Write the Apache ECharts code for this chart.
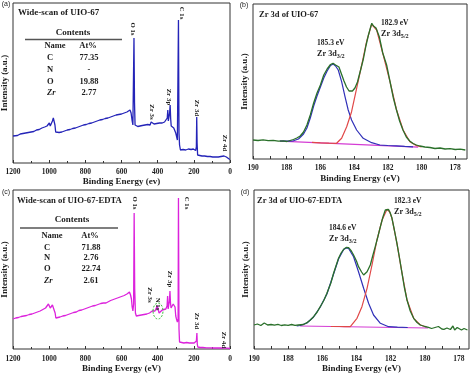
<!DOCTYPE html>
<html><head><meta charset="utf-8">
<script src="https://cdn.jsdelivr.net/npm/echarts@6/dist/echarts.min.js"></script>
<style>html,body{margin:0;padding:0;background:#fff}#c{width:474px;height:373px}</style>
</head><body><div id="c"></div>
<script>
// ---------- data (binding energy eV, intensity a.u.) ----------
const surveyTicks = [0, 200, 400, 600, 800, 1000, 1200];
const hiresTicks = [178, 180, 182, 184, 186, 188, 190];
const hiresMinor = [178, 179, 180, 181, 182, 183, 184, 185, 186, 187, 188, 189, 190];

const surveyA = [
[1200,27],[1190,28],[1175,27.5],[1160,29],[1145,29.5],[1130,30],[1115,30.5],[1100,31],[1085,31.5],[1070,33],[1055,33.5],[1040,35],[1025,36],[1012,37],[1004,39],[999,40],[994,37],[988,38],[982,42],[977,45],[972,43],[968,38],[964,31],[958,30],[945,30.5],[930,31],[915,32],[900,33],[885,33.5],[870,34.5],[855,35],[840,36],[825,37],[810,38],[795,38.5],[780,39.5],[765,40],[750,41],[735,42],[720,43],[705,43.5],[690,44.5],[675,45],[660,46],[645,47],[630,48],[615,48.5],[600,49],[585,50],[570,51],[560,51.5],[553,53],[547,50],[541,42],[537,38],[534,40],[531,125],[528,60],[525,38],[520,36],[510,36.5],[498,37],[485,37.5],[470,38],[455,38.5],[442,38],[436,41],[432,43],[428,40],[420,39],[405,39.5],[390,40],[375,40],[362,41],[352,41],[347,45],[344,53],[341,42],[338,41],[334,50],[331,58],[328,44],[325,37],[318,36],[311,35],[305,33],[300,30],[296,27],[291,23],[288,25],[285,143],[282,30],[279,18],[274,13],[260,13.5],[245,13],[230,14],[215,13.5],[203,14],[196,13],[190,12.5],[186,16],[184,46],[182,20],[179,8],[170,7.5],[155,7],[140,7],[125,6.5],[110,6.5],[95,6],[80,6],[65,6],[50,6.5],[40,7],[33,7],[29,9],[27,7],[20,6],[12,5],[5,4],[0,3.5]
];
const surveyC = [
[1200,30],[1185,31],[1170,31.5],[1155,32.5],[1140,33],[1125,33.5],[1110,34.5],[1095,35],[1080,36],[1065,37],[1050,38],[1035,39.5],[1020,41],[1010,43],[1004,45],[999,44],[994,41],[988,42],[982,44],[977,46],[972,44],[967,36],[963,31],[955,31.5],[940,32],[925,33],[910,33.5],[895,34.5],[880,35.5],[865,36.5],[850,37],[835,38.5],[820,39],[805,40],[790,41],[775,42],[760,43],[745,43.5],[730,44.5],[715,45.5],[700,46],[690,48],[686,46],[675,47.5],[660,48.5],[645,49.5],[630,50.5],[615,51.5],[600,52.5],[585,53.5],[570,55],[562,56],[556,57],[550,54],[545,50],[541,42],[537,38],[533,45],[530,136],[527,60],[523,36],[518,33],[505,33.5],[490,34],[475,34.5],[460,35],[445,36],[436,37],[430,38],[425,37],[415,38],[407,40],[402,43],[398,41],[392,36],[385,38],[375,39],[365,40],[355,40],[348,43],[345,53],[342,40],[339,39],[335,48],[332,58],[329,46],[326,41],[320,43],[314,45],[309,44],[304,42],[300,33],[296,30],[291,27],[287,30],[285,151],[282,20],[279,7],[270,6.5],[255,6],[240,6.5],[225,6],[210,6],[198,6],[191,5.5],[186,8],[183,16],[181,5],[178,2],[165,1.5],[150,1.5],[130,1.2],[110,1.2],[90,1],[70,1],[50,1],[35,1.2],[30,2.5],[26,1.2],[15,0.8],[0,0.5]
];

const rawB = [
[190,19],[189.7,18.5],[189.4,19.2],[189.1,18.3],[188.8,18.7],[188.5,17.8],[188.2,18.2],[188,17.5],[187.8,18.5],[187.6,19.5],[187.4,21],[187.2,23],[187,27],[186.8,34],[186.6,44],[186.4,56],[186.2,66],[186,74],[185.8,84],[185.6,90],[185.4,94.5],[185.25,95.7],[185.1,94],[185,95],[184.9,92],[184.75,85],[184.6,78],[184.45,72],[184.3,68],[184.2,67],[184.1,68],[183.95,71],[183.8,77],[183.6,90],[183.45,100],[183.3,113],[183.15,124],[183.0,133],[182.95,135.7],[182.85,133],[182.7,131],[182.5,122],[182.3,106],[182.07,94],[181.9,80],[181.67,61],[181.5,50],[181.3,38],[181.1,29],[180.9,22],[180.7,18],[180.5,15.5],[180.3,14],[180.1,13],[179.8,12],[179.5,11.5],[179.2,10.5],[178.9,11],[178.6,10],[178.3,10.3],[178,9.5],[177.7,9.8],[177.4,9]
];
const fit32B = [
[188.4,18],[188,17.8],[187.6,18.2],[187.3,20],[187,25],[186.8,31],[186.6,41],[186.4,53],[186.2,63],[186,72],[185.8,81],[185.6,88],[185.4,93.5],[185.24,95],[185.1,93],[184.94,89],[184.74,77.3],[184.54,62.3],[184.35,49],[184.15,39],[183.85,29],[183.46,20.7],[182.96,16.3],[182.47,14],[182,13.5],[181.5,13.1],[181,12.6],[180.5,12.2]
];
const fit52B = [
[186.5,16.6],[186,16.2],[185.5,15.9],[185.04,15.7],[184.74,20.7],[184.44,32.3],[184.15,47.3],[183.85,70.7],[183.55,94],[183.26,117.3],[182.96,134.7],[182.66,129],[182.27,104],[181.87,77.3],[181.48,49],[181.09,29],[180.69,17.3],[180.29,13.3],[180,12.2]
];
const baseB = [[188.4,17.8],[180.2,11.8]];

const rawD = [
[190,24],[189.8,25],[189.6,23.5],[189.4,26],[189.2,24],[189,24.5],[188.8,23.8],[188.6,24.6],[188.4,23.5],[188.2,24.2],[188,23.7],[187.8,24.5],[187.6,23.6],[187.4,24],[187.29,23],[187.1,24.5],[186.9,26.3],[186.7,29],[186.51,32.3],[186.3,37],[186.12,42.3],[185.9,49],[185.73,55.7],[185.5,66],[185.34,75.7],[185.2,83],[185.05,90.7],[184.9,96],[184.75,99.7],[184.6,101.5],[184.46,101.3],[184.3,98],[184.17,94],[184.0,88],[183.88,82.3],[183.7,77],[183.58,74],[183.48,75],[183.38,77.3],[183.19,84],[183.05,93],[182.9,102.3],[182.75,112],[182.6,122.3],[182.45,132],[182.31,139],[182.2,140.7],[182.12,139.5],[182.02,136],[181.92,130.7],[181.78,119],[181.63,105.7],[181.48,91],[181.33,75.7],[181.2,62],[181.04,49],[180.85,38],[180.65,30.7],[180.45,26.5],[180.26,24],[180,22.5],[179.78,21.7],[179.6,20.5],[179.4,21.5],[179.2,22.5],[179,20],[178.88,19.7],[178.7,21],[178.5,19.5],[178.35,23],[178.25,19],[178.1,21.5],[178,21.3],[177.85,19],[177.7,20.5],[177.5,19]
];
const fit32D = [
[187.5,23],[187.29,23.5],[186.9,26],[186.51,32],[186.12,42],[185.73,55],[185.34,75],[185.05,90],[184.75,99.5],[184.6,101],[184.46,100.5],[184.17,92.3],[183.88,77.3],[183.58,60.7],[183.29,45.7],[183.0,34],[182.6,25.7],[182.12,22.3],[181.6,21.8],[181,21.5]
];
const fit52D = [
[185.5,22.5],[185,22.5],[184.7,22.3],[184.36,22.3],[183.97,30.7],[183.68,42.3],[183.38,60.7],[183.09,84],[182.8,109],[182.5,129],[182.21,139.7],[182.05,137],[181.92,130.7],[181.63,105.7],[181.33,75.7],[181.04,49],[180.65,30.7],[180.26,24],[179.9,22]
];
const baseD = [[187.3,23],[179.8,21]];

const tableA = [['C','77.35'],['N','-'],['O','19.88'],['Zr','2.77']];
const tableC = [['C','71.88'],['N','2.76'],['O','22.74'],['Zr','2.61']];

// ---------- rendering ----------
const FONT = '"Liberation Serif","DejaVu Serif",serif';
const TXT = '#1c1c1c';
const chart = echarts.init(document.getElementById('c'), null, {renderer: 'canvas'});
const mctx = document.createElement('canvas').getContext('2d');
function mw(s, f) { mctx.font = f; return mctx.measureText(s).width; }
function bf(sz, it) { return (it ? 'italic ' : '') + 'bold ' + sz + 'px ' + FONT; }

const gridDefs = [
  {left: 13, top: 3, width: 217, height: 160},
  {left: 253, top: 4, width: 214, height: 155},
  {left: 13, top: 190, width: 217, height: 159},
  {left: 254, top: 190, width: 215, height: 159}
];
const grid = gridDefs.map(g => Object.assign({show: true, borderColor: '#333', borderWidth: 1, containLabel: false, outerBoundsMode: 'none'}, g));

function nameStyle() { return {color: TXT, fontFamily: FONT, fontWeight: 'bold', fontSize: 9}; }
function lab(margin, vals) {
  return {margin: margin, color: TXT, fontFamily: FONT, fontWeight: 'bold', fontSize: 7.5,
    showMinLabel: true, showMaxLabel: true, customValues: vals, formatter: v => String(v)};
}
function surveyX(i, name, margin, gap) {
  return {type: 'value', gridIndex: i, min: 0, max: 1200, interval: 200, inverse: true,
    axisLine: {show: false}, splitLine: {show: false},
    axisTick: {show: true, inside: true, length: 3, lineStyle: {color: '#333'}},
    minorTick: {show: true, splitNumber: 2, length: 2, lineStyle: {color: '#333'}},
    axisLabel: lab(margin, surveyTicks),
    name: name, nameLocation: 'middle', nameGap: gap, nameTextStyle: nameStyle()};
}
function hiresX(i, min, name, margin, gap) {
  return {type: 'value', gridIndex: i, min: min, max: 190, inverse: true,
    axisLine: {show: false}, splitLine: {show: false},
    axisTick: {show: true, inside: true, length: 3, lineStyle: {color: '#333'}, customValues: hiresMinor},
    axisLabel: lab(margin, hiresTicks),
    name: name, nameLocation: 'middle', nameGap: gap, nameTextStyle: nameStyle()};
}
function yAx(i, max) {
  return {type: 'value', gridIndex: i, min: 0, max: max,
    axisLine: {show: false}, axisTick: {show: false}, axisLabel: {show: false}, splitLine: {show: false},
    name: 'Intensity (a.u.)', nameLocation: 'middle', nameGap: 3.5, nameRotate: 90, nameTextStyle: nameStyle()};
}
const xAxis = [
  surveyX(0, 'Binding Energy (ev)', 5, 13),
  hiresX(1, 177.3, 'Binding Energy (eV)', 5.5, 15.5),
  surveyX(2, 'Binding Evergy (eV)', 6, 13),
  hiresX(3, 177.41, 'Binding Evergy (eV)', 6, 13)
];
const yAxis = [yAx(0, 160), yAx(1, 155), yAx(2, 159), yAx(3, 159)];

function ln(i, data, color, z, w) {
  return {type: 'line', xAxisIndex: i, yAxisIndex: i, data: data, symbol: 'none', clip: true,
    lineStyle: {color: color, width: w || 1.2}, z: z || 2, animation: false, silent: true};
}
const GREEN = '#2a702a', BLUE = '#3030b8', RED = '#e04848', MAG = '#d43cd4';
const series = [
  ln(0, surveyA, '#2424b8', 2, 1.3),
  ln(1, baseB, MAG, 2), ln(1, fit32B, BLUE, 3), ln(1, fit52B, RED, 3), ln(1, rawB, GREEN, 4, 1.3),
  ln(2, surveyC, '#dc22dc', 2, 1.3),
  ln(3, baseD, MAG, 2), ln(3, fit32D, BLUE, 3), ln(3, fit52D, RED, 3), ln(3, rawD, GREEN, 4, 1.3)
];

const G = [];
function txt(s, x, y, f, align, va, rot) {
  G.push({type: 'text', x: x, y: y, rotation: rot || 0, z: 100,
    style: {text: s, font: f, fill: TXT, textAlign: align || 'left', textVerticalAlign: va || 'middle'}});
}
function vlab(s, x, y) { txt(s, x, y, bf(6.8), 'center', 'middle', -Math.PI / 2); }
function subLab(main, sub, x, y) {
  const f = bf(8.2);
  txt(main, x, y, f, 'left', 'middle');
  txt(sub, x + mw(main, f), y + 2.5, bf(6.2), 'left', 'middle');
}
function hline(x1, x2, y) {
  G.push({type: 'line', z: 100, shape: {x1: x1, y1: y, x2: x2, y2: y}, style: {stroke: '#555', lineWidth: 1.3}});
}
function table(rows, cx, yTitle, x1, x2, yLine, xName, xAt, yHead, xEl, xVal, ys) {
  txt('Contents', cx, yTitle, bf(9), 'center');
  hline(x1, x2, yLine);
  txt('Name', xName, yHead, bf(8.5), 'center');
  txt('At%', xAt, yHead, bf(8.5), 'center');
  rows.forEach((r, k) => {
    txt(r[0], xEl, ys[k], bf(8.5, r[0] === 'Zr'), 'left');
    txt(r[1], xVal, ys[k], bf(8.5), 'center');
  });
}
const PL = '7px "Liberation Sans", Arial, sans-serif';
// panel a
txt('(a)', 6, 4.5, PL, 'center');
txt('Wide-scan of UIO-67', 18, 13, bf(9));
table(tableA, 73, 33, 25, 122, 39.5, 55, 88, 46, 47, 89, [58, 69.5, 81.5, 93]);
vlab('O 1s', 133, 29); vlab('C 1s', 182, 13); vlab('Zr 3s', 152, 112);
vlab('Zr 3p', 169, 97); vlab('Zr 3d', 197, 108); vlab('Zr 4d', 225, 143);
// panel b
txt('(b)', 244, 5, PL, 'center');
txt('Zr 3d of UIO-67', 259, 15, bf(8.5));
txt('185.3 eV', 317, 43, bf(7.5)); subLab('Zr 3d', '3/2', 317, 54);
txt('182.9 eV', 381, 23, bf(7.5)); subLab('Zr 3d', '5/2', 381, 34);
// panel c
txt('(c)', 6, 192, PL, 'center');
txt('Wide-scan of UIO-67-EDTA', 17, 201, bf(8.7));
table(tableC, 72, 220, 20, 118, 228, 52, 90, 236, 44, 91, [247.5, 258, 269, 281]);
vlab('O 1s', 135, 203); vlab('C 1s', 187, 203); vlab('Zr 3s', 150, 295); vlab('N 1s', 158, 304);
vlab('Zr 3p', 170, 279); vlab('Zr 3d', 197, 321); vlab('Zr 4d', 224, 340);
G.push({type: 'ellipse', z: 100, shape: {cx: 158, cy: 311, rx: 5, ry: 8},
  style: {stroke: '#3cbf3c', fill: 'none', lineWidth: 1, lineDash: [2, 1.5]}});
// panel d
txt('(d)', 245, 192, PL, 'center');
txt('Zr 3d of UIO-67-EDTA', 257, 201, bf(8.5));
txt('184.6 eV', 329, 228, bf(7.5)); subLab('Zr 3d', '3/2', 329, 239);
txt('182.3 eV', 394, 201, bf(7.5)); subLab('Zr 3d', '5/2', 394, 212);

chart.setOption({
  backgroundColor: '#fff', animation: false,
  grid: grid, xAxis: xAxis, yAxis: yAxis, series: series,
  graphic: {elements: G}
});
</script></body></html>
